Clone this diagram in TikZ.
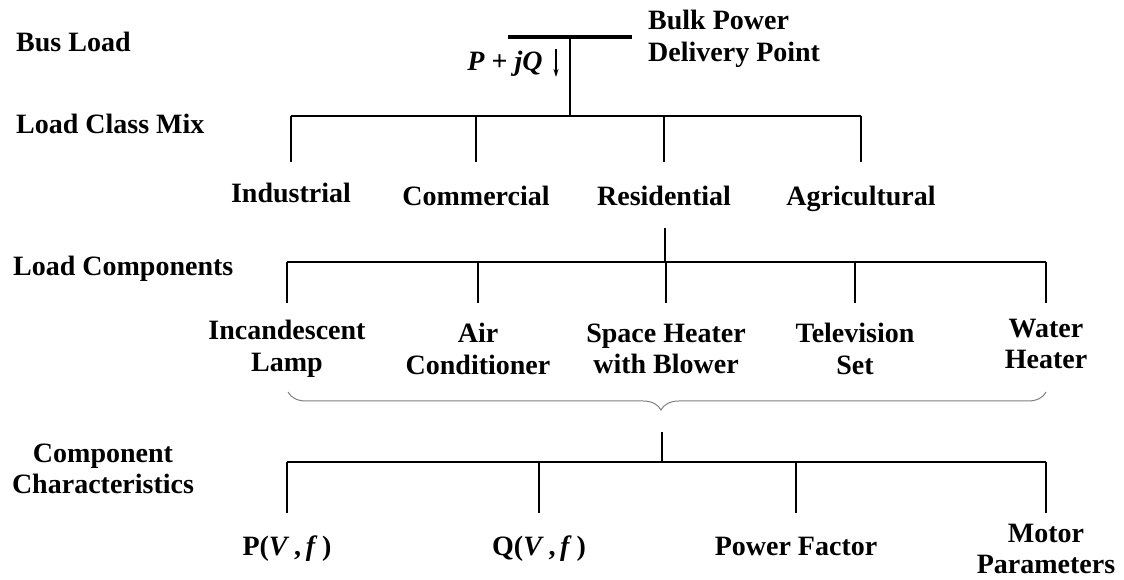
\documentclass[tikz,border=0pt]{standalone}
\usepackage{fontspec}
\setmainfont{Liberation Serif}
\usetikzlibrary{arrows.meta, decorations.pathreplacing}

\begin{document}
\begin{tikzpicture}[
    x=1pt, y=1pt,
    lbl/.style={font=\bfseries\fontsize{28}{31.5}\selectfont, align=center, inner sep=0pt},
    one/.style={lbl, anchor=base},
    side/.style={lbl, anchor=base west},
    wire/.style={line width=1.5pt},
    arrow/.style={-{Stealth[length=8pt,width=5pt]}, line width=1.3pt}
]
\useasboundingbox (0,0) rectangle (1124,580);
% level headings
\node[side] (busload) at (16,528) {Bus Load};
\node[side] (mixlbl) at (16,446) {Load Class Mix};
\node[side] (complbl) at (13,304) {Load Components};
\node[lbl] (charlbl) at (103,111) {Component\\Characteristics};
% bus
\coordinate (busl) at (508,543);
\coordinate (busr) at (632,543);
\coordinate (bus) at (570,543);
\coordinate (mix) at (570,464);
\node[lbl, anchor=west, align=left] (bulk) at (648,541) {Bulk Power\\Delivery Point};
\node[one] (pq) at (505,509) {\textit{P} + \textit{jQ}};
\coordinate (pqtop) at (556,531);
\coordinate (pqbot) at (556,503);
% load classes
\node[one] (ind) at (291,377) {Industrial};
\node[one] (com) at (476,374) {Commercial};
\node[one] (res) at (664,374) {Residential};
\node[one] (agr) at (861,374) {Agricultural};
\coordinate (mixend) at (0,418);
% load components
\coordinate (comp) at (665,318);
\coordinate (resbot) at (665,352);
\coordinate (compend) at (0,277);
\node[lbl] (lamp) at (287,231) {Incandescent\\Lamp};
\node[lbl] (air) at (478,231) {Air\\Conditioner};
\node[lbl] (heat) at (666,231) {Space Heater\\with Blower};
\node[lbl] (tv) at (855,231) {Television\\Set};
\node[lbl] (water) at (1046,236) {Water\\Heater};
% characteristics
\coordinate (bracel) at (288,188);
\coordinate (bracer) at (1046,188);
\coordinate (chartop) at (662,148);
\coordinate (chars) at (662,118);
\coordinate (charend) at (0,67);
\node[one] (pvf) at (287,24) {P(\textit{V}\,,\,\textit{f}\,)};
\node[one] (qvf) at (539,24) {Q(\textit{V}\,,\,\textit{f}\,)};
\node[one] (pf) at (796,24) {Power Factor};
\node[lbl] (motor) at (1046,31) {Motor\\Parameters};

\draw[line width=4pt] (busl) -- (busr);
\draw[wire] (bus) -- (mix);
\draw[arrow] (pqtop) -- (pqbot);
\draw[wire] (ind |- mix) -- (agr |- mix);
\foreach \n in {ind, com, res, agr}
    \draw[wire] (\n |- mix) -- (\n |- mixend);
\draw[wire] (resbot) -- (comp);
\draw[wire] (lamp |- comp) -- (water |- comp);
\foreach \n in {lamp, air, heat, tv, water}
    \draw[wire] (\n |- comp) -- (\n |- compend);
\draw[line width=1pt, gray, decorate, decoration={brace, amplitude=18pt, aspect=0.508}]
    (bracer) -- (bracel);
\draw[wire] (chartop) -- (chars);
\draw[wire] (pvf |- chars) -- (motor |- chars);
\foreach \n in {pvf, qvf, pf, motor}
    \draw[wire] (\n |- chars) -- (\n |- charend);
\end{tikzpicture}
\end{document}
